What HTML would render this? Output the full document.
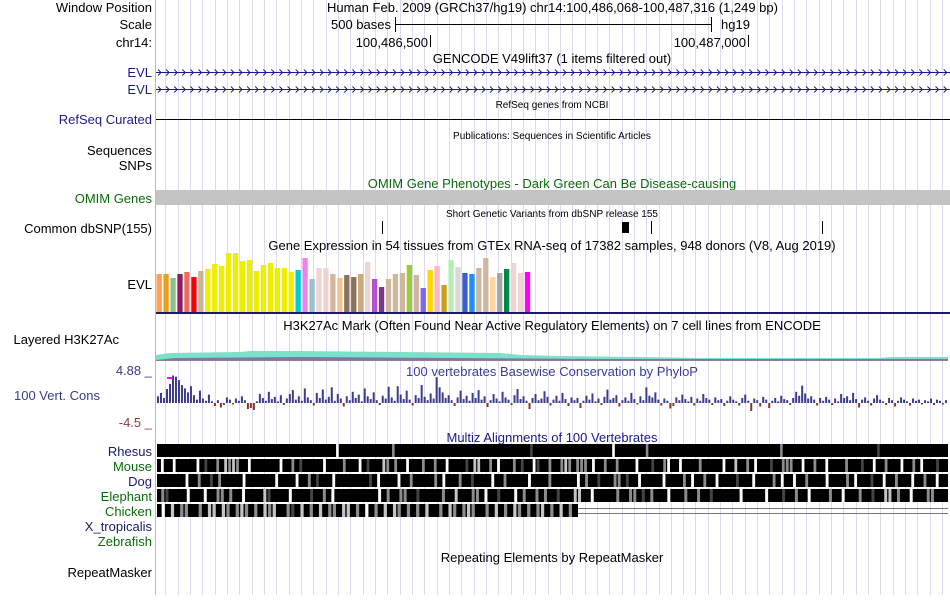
<!DOCTYPE html>
<html><head><meta charset="utf-8"><style>
body{margin:0;background:#fff;width:950px;height:595px;overflow:hidden;font-family:"Liberation Sans",sans-serif;}
svg text{font-family:"Liberation Sans",sans-serif;}
</style></head><body>
<svg id="c" width="950" height="595" xmlns="http://www.w3.org/2000/svg">
<g id="grid"></g>
<line x1="155.5" y1="0" x2="155.5" y2="595" stroke="#f5a0a0"/>
<g font-size="13" text-anchor="end">
<text x="152" y="12" fill="#000">Window Position</text>
<text x="152" y="29" fill="#000">Scale</text>
<text x="152" y="47" fill="#000">chr14:</text>
<text x="152" y="77" fill="#1a1a8c">EVL</text>
<text x="152" y="94" fill="#1a1a8c">EVL</text>
<text x="152" y="124" fill="#1a1a8c">RefSeq Curated</text>
<text x="152" y="155" fill="#000">Sequences</text>
<text x="152" y="170" fill="#000">SNPs</text>
<text x="152" y="203" fill="#0b6b0b">OMIM Genes</text>
<text x="152" y="233" fill="#000">Common dbSNP(155)</text>
<text x="152" y="289" fill="#000">EVL</text>
<text x="119" y="344" fill="#000">Layered H3K27Ac</text>
<text x="152" y="375" fill="#3c3c8c">4.88 _</text>
<text x="100" y="400" fill="#3c3c8c">100 Vert. Cons</text>
<text x="152" y="427" fill="#8c3c3c">-4.5 _</text>
<text x="152" y="456" fill="#1a1a6c">Rhesus</text>
<text x="152" y="471" fill="#0b6b0b">Mouse</text>
<text x="152" y="486" fill="#1a1a6c">Dog</text>
<text x="152" y="501" fill="#0b6b0b">Elephant</text>
<text x="152" y="516" fill="#0b6b0b">Chicken</text>
<text x="152" y="531" fill="#1a1a6c">X_tropicalis</text>
<text x="152" y="546" fill="#0b6b0b">Zebrafish</text>
<text x="152" y="577" fill="#000">RepeatMasker</text>
</g>
<g font-size="13" fill="#000">
<text x="327" y="12">Human Feb. 2009 (GRCh37/hg19)   chr14:100,486,068-100,487,316 (1,249 bp)</text>
<text x="391" y="29" text-anchor="end">500 bases</text>
<line x1="395" y1="24.5" x2="711" y2="24.5" stroke="#000"/>
<line x1="395.5" y1="17" x2="395.5" y2="32" stroke="#000"/>
<line x1="711.5" y1="17" x2="711.5" y2="32" stroke="#000"/>
<text x="721" y="29">hg19</text>
<text x="428" y="47" text-anchor="end">100,486,500</text>
<line x1="430.5" y1="35" x2="430.5" y2="47" stroke="#000"/>
<text x="746" y="47" text-anchor="end">100,487,000</text>
<line x1="748.5" y1="35" x2="748.5" y2="47" stroke="#000"/>
<text x="552" y="63" text-anchor="middle">GENCODE V49lift37 (1 items filtered out)</text>
<text x="552" y="108" font-size="10" text-anchor="middle">RefSeq genes from NCBI</text>
<line x1="156" y1="119.5" x2="950" y2="119.5" stroke="#000"/>
<text x="552" y="139" font-size="10" text-anchor="middle">Publications: Sequences in Scientific Articles</text>
<text x="552" y="188" text-anchor="middle" fill="#0b6b0b">OMIM Gene Phenotypes - Dark Green Can Be Disease-causing</text>
<rect x="156" y="190" width="794" height="15" fill="#c4c4c4"/>
<text x="552" y="217" font-size="10" text-anchor="middle">Short Genetic Variants from dbSNP release 155</text>
<line x1="382.5" y1="221" x2="382.5" y2="234" stroke="#000"/>
<rect x="622" y="222" width="7" height="11" fill="#000"/>
<line x1="651.5" y1="221" x2="651.5" y2="234" stroke="#000"/>
<line x1="822.5" y1="221" x2="822.5" y2="234" stroke="#000"/>
<text x="552" y="250" text-anchor="middle">Gene Expression in 54 tissues from GTEx RNA-seq of 17382 samples, 948 donors (V8, Aug 2019)</text>
<line x1="156" y1="313" x2="950" y2="313" stroke="#1a1a6c" stroke-width="2"/>
<text x="552" y="330" text-anchor="middle">H3K27Ac Mark (Often Found Near Active Regulatory Elements) on 7 cell lines from ENCODE</text>
<text x="552" y="376" text-anchor="middle" fill="#3c3c9c">100 vertebrates Basewise Conservation by PhyloP</text>
<text x="552" y="442" text-anchor="middle" fill="#1a1a8c">Multiz Alignments of 100 Vertebrates</text>
<text x="552" y="562" text-anchor="middle">Repeating Elements by RepeatMasker</text>
</g>
<g id="evl"></g>
<g>
<path d="M156 360 L156 355 L170 353 L240 352 L250 351 L300 351 L400 352 L500 353 L520 355 L560 356 L640 357 L700 358 L880 358 L890 357 L948 357 L948 360 Z" fill="#7de0c8"/>
<path d="M156 360 L175 358 L300 357 L450 358 L600 359 L948 359 L948 360 Z" fill="#7a7aa8"/>
<path d="M156 360 L948 360 L948 361 L156 361 Z" fill="#9a7a9a"/>
</g>
<g id="gtex"></g>
<g id="cons"></g>
<g id="multiz"></g>
</svg>
<script>
const NS="http://www.w3.org/2000/svg";
function mk(t,a,p){const e=document.createElementNS(NS,t);for(const k in a)e.setAttribute(k,a[k]);p.appendChild(e);return e;}
const grid=document.getElementById('grid');
for(let x=165.3;x<950;x+=12.33){mk('line',{x1:Math.round(x)+.5,y1:0,x2:Math.round(x)+.5,y2:595,stroke:'#dcdaf0'},grid);}
const evl=document.getElementById('evl');
[72,89].forEach(y=>{mk('line',{x1:156,y1:y+.5,x2:950,y2:y+.5,stroke:'#1a1a8c'},evl);
 let d='';for(let x=158;x<948;x+=8.1){d+=`M${x} ${y-2.5}L${x+3} ${y+.5}L${x} ${y+3.5}`;}
 mk('path',{d:d,stroke:'#1a1a8c',fill:'none','stroke-width':1},evl);});
// GTEx data
const gtexValues=[38,38,34,38,40,35,41,43,48,46,59,59,51,52,41,47,49,44,44,40,42,54,33,44,44,38,34,37,35,38,50,33,25,33,38,39,47,37,24,42,46,27,52,45,39,38,44,54,35,39,43,49,39,40];
const gtexColors=['#ff9f4f','#eb9d15','#8fbc8f','#8b1e5e','#e86d5a','#ff0000','#c9b29a','#eeee00','#eeee00','#eeee00','#eeee00','#eeee00','#eeee00','#eeee00','#eeee00','#eeee00','#eeee00','#eeee00','#eeee00','#eeee00','#00cdcd','#ee82ee','#9ac0cd','#eed5d2','#eed5d2','#cdb79e','#f4c28b','#8b7355','#8b7355','#cdaa7d','#eed5d2','#b452cd','#7a378b','#cdb79e','#cdb79e','#cdb79e','#9acd32','#cdb79e','#7b68ee','#ffd700','#ffb6c1','#cd9b1d','#b4eeb4','#d9d9d9','#3a5fcd','#1e90ff','#cdb79e','#cdb79e','#ffd39b','#a6a6a6','#008b45','#eed5d2','#eed5d2','#ff00ff'];
const gtex=document.getElementById('gtex');
const gBase=312, gScale=1, gStep=6.95, gX0=156.5;
gtexValues.forEach((v,i)=>{const h=v*gScale;
 const r=mk('rect',{x:gX0+i*gStep,y:gBase-h,width:5.3,height:h,fill:gtexColors[i]},gtex);
 
 });
// PhyloP data
const consValues=[
1.2,1.8,0.9,2.5,3.4,4.9,4.7,4.1,3.2,2.6,1.9,3.0,1.4,0.6,2.2,0.8,0.4,1.5,0.3,-0.6,0.5,-0.9,-0.4,1.0,0.6,-0.3,0.8,0.4,1.2,0.5,-1.2,-1.0,-1.4,0.3,1.6,0.9,0.4,2.0,0.7,1.1,0.3,1.4,-0.4,0.8,1.6,2.3,0.6,1.2,0.4,2.6,1.0,0.5,-0.5,1.8,0.9,2.4,0.6,1.1,2.8,0.4,1.6,0.8,-0.7,1.2,0.5,2.0,0.9,1.5,0.3,2.6,1.2,0.7,1.9,0.5,-0.4,1.3,0.8,2.9,1.0,0.4,3.0,1.5,0.7,2.2,0.6,-0.5,1.4,0.9,3.2,1.1,0.5,1.7,0.8,4.6,2.8,1.9,0.9,1.4,0.5,-0.6,1.0,2.2,0.7,1.3,0.4,1.8,0.9,2.3,0.6,1.2,-0.8,0.5,1.6,0.8,0.3,2.0,1.0,0.6,-0.4,1.4,2.5,0.7,1.2,0.4,-1.2,0.9,1.6,0.5,0.8,2.1,1.1,-0.5,0.6,1.3,0.4,1.8,0.7,-0.6,1.0,0.5,0.9,-1.0,0.4,1.3,0.6,1.7,0.3,0.8,-0.4,1.1,2.4,0.6,0.9,1.4,-0.7,0.5,1.0,0.4,1.8,0.7,-0.3,1.2,0.5,2.8,1.3,1.0,1.9,0.6,-0.5,0.8,0.4,-1.1,-0.6,1.0,0.5,1.5,0.7,0.3,1.1,-0.5,0.8,0.4,1.6,0.9,0.6,-0.4,1.0,0.5,0.7,-0.6,0.4,1.2,0.6,0.3,-0.5,0.9,1.5,0.4,-1.6,0.8,0.5,-0.7,1.1,0.6,-1.0,0.4,0.9,0.3,1.3,0.7,0.5,-0.4,0.9,2.0,1.3,3.1,1.7,0.8,1.2,0.6,-0.5,0.9,0.4,1.1,0.6,-0.4,0.8,0.3,1.6,0.9,1.2,0.5,1.8,0.7,-0.9,0.6,1.0,0.4,-0.5,0.8,1.4,0.6,0.3,-0.4,0.9,0.5,-0.7,0.4,1.0,0.6,0.3,-0.5,0.8,0.4,0.6,-0.3,0.5,0.3,0.8,-0.4,0.6,0.4,-0.3,0.5];
const cons=document.getElementById('cons');
const cZero=403, cPos=5.6, cNeg=5.0, cX0=157, cStep=(948-157)/consValues.length;
function cy(v){return v>=0?cZero-v*cPos:cZero-v*cNeg;}
consValues.forEach((v,i)=>{const y=cy(v);
 const r=mk('rect',{x:cX0+i*cStep,y:Math.min(y,cZero),width:Math.max(cStep-1,1.2),height:Math.max(Math.abs(cZero-y),0.8),fill:v>=0?'#3c3c8c':'#8c3232'},cons);
 
 });
mk('rect',{x:167,y:377,width:6,height:2,fill:'#ff00ff'},cons);
// Multiz
const shades={'#':'#000','g':'#8c8c8c','l':'#c4c4c4','w':'#fff','d':'#444'};
const rhesus='################################################w##############g####################################d#####################w########g###################################g#########################d##################';
const mouse ='#w##w#####w#d##g#lglg##w#######w##g#d#####w####g###w#d###lg#g##w###g##g##w####d#ll##g#w###g#d##wd##g##glg#ggg#w##g##g####w###d##gw##w####g#####w##l##g#w###d##ggg##w##g##w####g###d##w##g###w##g#w###d##';
const dog   ='#######w##g##d#g#####w#######w####w##g#d###w########d#w####w##g#####g#w###g##d####w##g#####w####g######w#g##d###gg#d##w#####w####g#w##g##w####d###w####g#w##w##g####w####g#w###d##w##g###w##g##w##';
const eleph ='#gd####w###w##gg#g##w####ld####w####d##g#w##########w#g##gg##d#####g##l###gg#w##d###w#g##g#g##d###ll##w#####g##gg#d#g###w###g##g##d######w#####w###d##g##w####g##w###g##d##ll#g##w###gg###';
const chick ='#w#l#gg##g#ll#lg#glg#g#lgl##gd#l#g#l#gg#ll#g#w#g#l#lg#g#g#l##g#lg#glg##g#l#g#lg#g#gl#g#l#g#';
const mRows=[[rhesus,444,948],[mouse,459,948],[dog,474,948],[eleph,489,948],[chick,504,578]];
const mz=document.getElementById('multiz');
mRows.forEach(([s,y,end],ri)=>{const w=(end-157)/s.length;
 mk('rect',{x:157,y:y,width:end-157,height:13,fill:'#000'},mz);
 for(let i=0;i<s.length;i++){if(s[i]!=='#'){mk('rect',{x:157+i*w,y:y,width:Math.max(w*0.7,1),height:13,fill:shades[s[i]]},mz);}}});
mk('line',{x1:578,y1:508.5,x2:948,y2:508.5,stroke:'#777'},mz);
mk('line',{x1:578,y1:513.5,x2:948,y2:513.5,stroke:'#777'},mz);
</script>
</body></html>
